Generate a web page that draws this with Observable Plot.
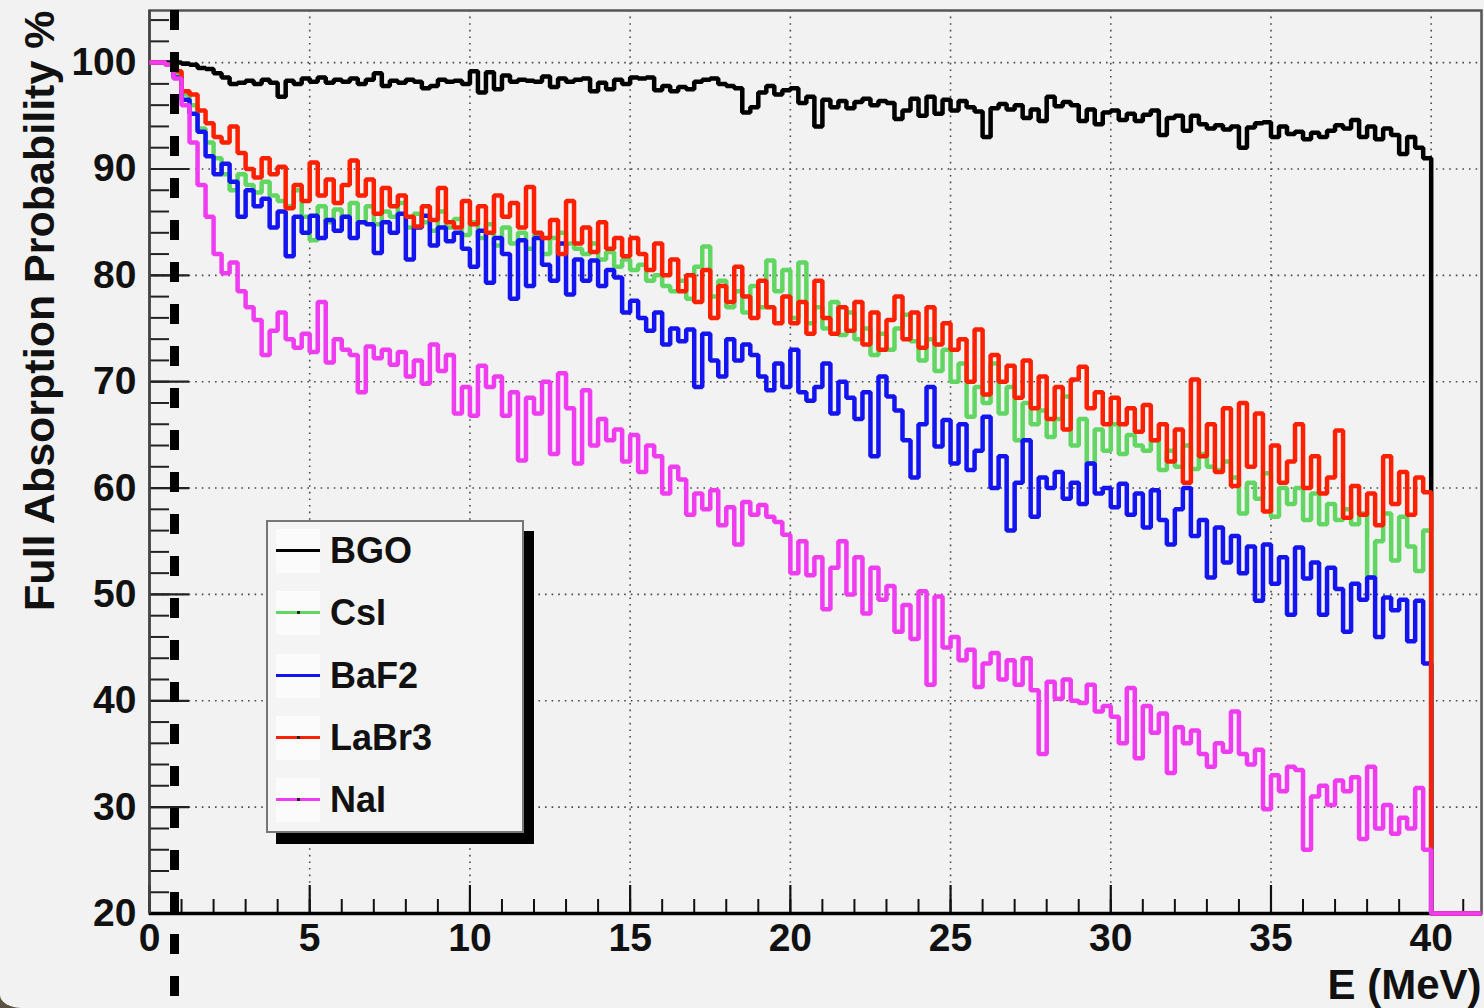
<!DOCTYPE html>
<html><head><meta charset="utf-8">
<script src="https://cdn.jsdelivr.net/npm/d3@7"></script>
<script src="https://cdn.jsdelivr.net/npm/@observablehq/plot@0.6"></script>
<style>
html,body{margin:0;padding:0;background:#5a5140;}
#wrap{position:relative;width:1484px;height:1008px;background:#f2f2f2;border-bottom-left-radius:22px 13px;overflow:hidden;font-family:"Liberation Sans",Arial,Helvetica,sans-serif;}
#chart svg{display:block;}
.legend{position:absolute;left:266px;top:520px;width:254px;height:309px;background:#f4f4f4;border:2px solid #777;box-shadow:10px 11px 0 #000;}
.entry{position:absolute;left:0;height:44px;width:240px;}
.sample{position:absolute;left:8px;top:0;width:44px;height:44px;background:#fbfbfb;}
.sample .ln{position:absolute;left:0;width:44px;top:20px;height:3px;}
.sample .dot{position:absolute;left:21px;top:20px;width:3px;height:3px;background:#222;}
.entry .lab{position:absolute;left:62px;top:0;line-height:44px;font-size:36px;font-weight:bold;color:#111;}
</style></head><body>
<div id="wrap"><div id="chart"></div></div>
<script>
// ---------- data ----------
const binWidth = 0.25;             // MeV, histogram bin width
const energyEnd = 40;              // last bin edge (MeV)
const xDomain = [0, 41.57];
const yDomain = [20, 104.9];
const seriesNames = ["BGO", "CsI", "BaF2", "LaBr3", "NaI"];
const seriesColors = ["#000000", "#62d662", "#1414f0", "#ff2000", "#f03cf0"];
const legendMarker = [false, true, false, true, true];
const xTicks = [0, 5, 10, 15, 20, 25, 30, 35, 40];
const xMinorTicks = [0,1,2,3,4,5,6,7,8,9,10,11,12,13,14,15,16,17,18,19,20,21,22,23,24,25,26,27,28,29,30,31,32,33,34,35,36,37,38,39,40,41];
const yTicks = [20, 30, 40, 50, 60, 70, 80, 90, 100];
const yMinorTicks = [20,22,24,26,28,30,32,34,36,38,40,42,44,46,48,50,52,54,56,58,60,62,64,66,68,70,72,74,76,78,80,82,84,86,88,90,92,94,96,98,100,102,104];
const thresholdE = [0.78];          // dashed vertical marker (MeV)
const thresholdSpan = [104.9, 11];  // runs from top of frame to bottom of picture
const xTitle = "E (MeV)";
const yTitle = "Full Absorption Probability %";

const BGO = [
100,100,100,100,99.9,99.8,99.5,99.4,99.0,98.6,98.0,98.1,98.3,98.0,98.4,98.1,
96.8,98.3,98.0,98.5,98.2,98.6,98.1,98.4,98.2,98.5,98.0,98.4,99.0,97.8,98.3,98.1,
98.4,98.2,97.6,97.8,98.4,98.2,98.3,98.0,99.2,97.2,99.1,97.5,98.8,98.2,98.4,98.3,
98.2,98.7,97.7,98.5,98.2,98.4,98.5,97.3,98.1,97.5,98.4,98.0,98.6,98.5,98.6,97.4,
97.8,97.3,97.7,97.5,98.2,98.4,98.5,98.0,97.8,97.6,95.3,95.8,97.2,97.8,97.0,97.4,
97.6,96.2,96.8,94.0,96.5,95.8,96.4,95.7,96.3,96.6,96.0,96.4,96.2,94.7,95.5,96.6,
95.0,96.8,95.2,96.5,95.5,96.4,95.8,95.4,93.0,95.7,96.1,95.6,96.0,94.8,95.6,94.5,
96.8,95.9,96.3,96.0,94.5,95.6,94.2,95.3,95.5,94.6,95.2,94.5,95.1,95.5,93.2,94.8,
95.0,93.6,95.0,94.2,93.8,94.1,93.7,94.0,92.0,93.9,94.3,94.4,93.0,94.0,93.3,93.5,
92.8,93.4,93.0,93.6,94.1,93.8,94.6,93.0,94.0,92.8,93.8,93.2,91.4,93.0,92.0,91.0];

const CsI = [
100,100,99.8,99.0,97.0,96.0,93.8,92.5,91.0,89.5,88.0,89.5,88.5,87.8,88.8,87.5,
87.0,86.5,88.0,85.5,83.3,86.5,85.0,86.2,85.5,86.8,85.0,86.5,84.8,86.0,85.5,86.8,
84.5,85.8,85.0,84.2,86.0,84.5,85.3,83.8,85.0,83.5,84.8,82.8,84.5,83.0,84.0,82.5,
83.8,82.0,83.5,84.0,83.0,82.5,82.0,83.0,81.5,82.2,80.8,81.5,80.5,81.0,79.5,80.0,
79.0,78.5,79.5,77.8,80.8,82.7,78.0,79.5,77.0,78.5,76.5,79.0,77.0,81.4,78.5,80.5,
76.0,81.2,75.5,77.0,75.0,77.5,74.4,76.5,74.0,75.0,72.5,74.5,73.0,75.0,76.3,73.8,
72.0,74.0,71.0,73.0,70.0,71.7,66.7,69.5,68.0,71.7,67.0,69.5,64.5,68.0,66.0,67.3,
64.8,66.5,68.6,64.0,66.5,62.3,65.5,63.5,66.0,63.2,65.0,64.0,63.5,64.5,61.7,63.5,
62.0,64.0,61.8,63.2,62.0,61.7,62.5,61.0,57.6,60.5,59.0,61.4,57.3,60.0,58.5,60.0,
57.0,59.5,56.6,58.5,57.0,58.0,56.6,57.6,51.6,55.0,57.6,53.2,57.3,54.5,52.2,56.0];

const BaF2 = [
100,100,99.8,98.6,96.5,95.2,93.5,91.2,89.5,90.5,88.8,85.5,88.0,86.5,87.2,84.5,
86.0,81.8,85.5,84.0,85.6,83.5,85.2,84.2,85.5,83.5,85.0,84.8,82.1,85.0,84.0,85.8,
81.5,84.5,85.6,82.8,84.5,83.2,84.0,82.5,80.8,84.2,79.3,83.5,82.0,77.8,83.3,79.0,
83.5,81.0,79.5,83.0,78.2,81.5,79.5,81.4,79.0,80.5,79.8,76.5,77.6,76.0,74.8,76.5,
73.5,75.0,73.8,74.9,69.5,74.5,72.0,70.5,74.0,72.0,73.5,72.5,70.5,69.2,71.7,69.5,
73.0,69.0,68.2,69.5,71.7,67.0,70.0,68.5,66.5,69.0,63.0,70.5,68.6,67.3,64.5,61.0,
66.0,69.5,63.9,66.4,62.3,66.0,61.7,63.5,66.7,60.0,63.0,56.0,60.5,64.5,57.3,61.0,
60.0,61.5,59.0,60.5,58.5,62.3,59.5,60.0,58.2,60.4,57.5,59.5,56.3,59.8,57.0,54.7,
58.0,60.0,55.5,57.0,51.6,56.3,53.0,55.5,52.0,54.5,49.4,54.7,51.0,53.5,48.1,54.4,
51.5,53.0,48.1,52.5,50.5,46.5,51.0,49.5,51.6,46.0,49.7,48.5,49.5,45.6,49.4,43.5];

const LaBr3 = [
100,100,99.8,99.2,97.3,97.0,95.5,94.3,93.0,92.5,94.0,91.5,90.0,89.2,91.0,89.5,
90.2,86.3,88.5,87.0,90.6,87.5,89.0,86.8,88.5,90.8,87.5,89.0,85.8,88.2,86.5,87.5,
85.5,84.6,86.5,85.2,88.2,85.0,84.5,87.0,84.8,86.5,84.0,87.5,85.5,86.8,84.5,88.3,
84.0,83.5,85.2,82.0,87.0,83.0,84.5,82.2,85.0,82.5,83.5,81.8,83.5,82.0,80.5,83.0,
80.0,81.5,78.5,80.0,77.5,80.5,76.0,79.0,77.5,80.8,78.0,76.0,79.5,77.0,75.5,78.0,
75.5,77.5,74.5,79.5,76.0,74.5,77.0,74.8,77.5,73.5,76.5,73.0,75.8,78.0,74.0,76.5,
73.2,77.0,73.5,75.5,73.0,74.0,70.0,74.9,68.8,72.5,70.0,71.5,68.5,72.0,67.5,70.5,
66.5,69.5,65.5,70.2,71.4,67.5,69.0,66.0,68.5,66.0,67.5,65.3,67.8,64.5,66.0,62.5,
65.5,60.5,70.2,63.0,66.0,61.5,67.5,60.2,68.0,62.0,67.0,57.8,64.0,60.5,62.5,66.0,
60.0,63.0,59.5,61.0,65.4,57.2,60.2,57.5,59.5,56.5,63.0,58.5,61.5,57.5,61.0,59.6];

const NaI = [
100,100,99.8,98.5,96.0,92.5,88.5,85.5,82.0,80.2,81.2,78.5,77.0,75.8,72.5,74.8,
76.5,74.0,73.2,74.5,72.8,77.5,71.8,74.0,73.0,72.5,69.0,73.3,72.2,73.0,71.6,72.8,
70.5,72.0,69.8,73.5,71.0,72.5,67.0,69.5,66.8,71.5,69.5,70.5,66.8,69.0,62.6,68.5,
67.0,70.0,63.2,70.8,67.5,62.3,69.2,64.0,66.5,64.5,65.5,62.5,65.0,61.5,64.0,63.0,
59.5,62.0,60.8,57.5,59.5,58.0,59.8,56.5,58.2,54.7,58.7,57.5,58.4,57.3,56.8,55.6,
52.0,55.0,51.8,53.5,48.6,52.5,55.0,50.0,53.5,48.2,52.5,49.5,50.8,46.5,49.0,45.8,
50.3,41.5,49.8,45.0,46.0,43.8,44.8,41.3,43.5,44.5,42.0,43.8,41.5,44.0,41.0,35.0,
41.8,40.2,42.0,40.0,39.8,41.5,39.0,39.5,38.5,36.0,41.2,34.6,39.5,37.0,38.8,33.2,
37.5,36.0,37.2,35.0,33.8,36.0,35.2,39.0,35.0,34.0,35.4,29.8,33.0,31.5,33.8,33.5,
26.0,31.0,32.0,30.2,32.5,31.5,32.8,27.0,33.8,28.0,30.2,27.5,29.0,28.0,31.8,26.0];

const seriesValues = [BGO, CsI, BaF2, LaBr3, NaI];

// ---------- build step tables ----------
function histRows(vals) {
  const rows = vals.map((v, i) => ({E: i * binWidth, v}));
  rows.push({E: energyEnd, v: 0});
  rows.push({E: xDomain[1], v: 0});
  return rows;
}

const W = 1484, H = 1008;
const mL = 149, mR = 3, mT = 10, mB = 95;
const frameW = W - mL - mR, frameH = H - mT - mB;
const FONT = "'Liberation Sans', Arial, Helvetica, sans-serif";

const marks = [
  // grid
  Plot.ruleX(xTicks.filter(d => d > xDomain[0]), {x: d => d, stroke: "#4a4a4a", strokeWidth: 1.6, strokeDasharray: "1.6,5"}),
  Plot.ruleY(yTicks.filter(d => d > yDomain[0]), {y: d => d, stroke: "#4a4a4a", strokeWidth: 1.6, strokeDasharray: "1.6,5"}),
  // frame
  Plot.frame({stroke: "#555", strokeWidth: 2.5}),
  // inward ticks and axis lines
  Plot.tickY(yMinorTicks, {y: d => d, stroke: "#222", strokeWidth: 2, insetRight: frameW - 20}),
  Plot.tickY(yTicks, {y: d => d, stroke: "#222", strokeWidth: 2.2, insetRight: frameW - 40}),
  Plot.tickX(xMinorTicks, {x: d => d, stroke: "#111", strokeWidth: 2, insetTop: frameH - 14}),
  Plot.tickX(xTicks, {x: d => d, stroke: "#111", strokeWidth: 2.2, insetTop: frameH - 28}),
  Plot.ruleY([yDomain[0]], {y: d => d, stroke: "#000", strokeWidth: 3.5}),
  Plot.ruleX([xDomain[0]], {x: d => d, stroke: "#444", strokeWidth: 2.5})
];
seriesValues.forEach((vals, k) => {
  marks.push(Plot.line(histRows(vals), {
    x: "E", y: d => Math.max(d.v, yDomain[0]), curve: "step-after",
    stroke: seriesColors[k], strokeWidth: 4.5, strokeLinejoin: "miter", strokeLinecap: "butt"
  }));
});
marks.push(
  // dashed threshold marker
  Plot.ruleX(thresholdE, {x: d => d, y1: thresholdSpan[0], y2: thresholdSpan[1], stroke: "#000", strokeWidth: 9, strokeDasharray: "20,22"}),
  // tick labels
  Plot.text(yTicks, {y: d => d, text: d => String(d), frameAnchor: "left", textAnchor: "end", dx: -13, fontSize: 39, fontWeight: "bold", fill: "#111"}),
  Plot.text(xTicks, {x: d => d, text: d => String(d), frameAnchor: "bottom", lineAnchor: "top", dy: 10, fontSize: 39, fontWeight: "bold", fill: "#111"}),
  // axis titles
  Plot.text([yTitle], {text: d => d, frameAnchor: "top-left", rotate: -90, textAnchor: "end", lineAnchor: "bottom", dx: -96, dy: 0, fontSize: 43, fontWeight: "bold", fill: "#111"}),
  Plot.text([xTitle], {text: d => d, frameAnchor: "bottom-right", textAnchor: "end", lineAnchor: "top", dx: 0, dy: 56, fontSize: 42, fontWeight: "bold", fill: "#111"})
);

const chart = Plot.plot({
  width: W, height: H,
  marginLeft: mL, marginRight: mR, marginTop: mT, marginBottom: mB,
  x: {domain: xDomain, axis: null},
  y: {domain: yDomain, axis: null},
  style: {background: "transparent", fontFamily: FONT, overflow: "visible"},
  marks
});
const wrap = document.getElementById("wrap");
document.getElementById("chart").appendChild(chart);

// legend
const leg = document.createElement("div");
leg.className = "legend";
seriesNames.forEach((name, k) => {
  const e = document.createElement("div");
  e.className = "entry";
  e.style.top = (7 + k * 62.3) + "px";
  const s = document.createElement("div");
  s.className = "sample";
  const ln = document.createElement("div");
  ln.className = "ln";
  ln.style.background = seriesColors[k];
  s.appendChild(ln);
  if (legendMarker[k]) { const d = document.createElement("div"); d.className = "dot"; s.appendChild(d); }
  e.appendChild(s);
  const lab = document.createElement("div");
  lab.className = "lab";
  lab.textContent = name;
  e.appendChild(lab);
  leg.appendChild(e);
});
wrap.appendChild(leg);
</script>
</body></html>
